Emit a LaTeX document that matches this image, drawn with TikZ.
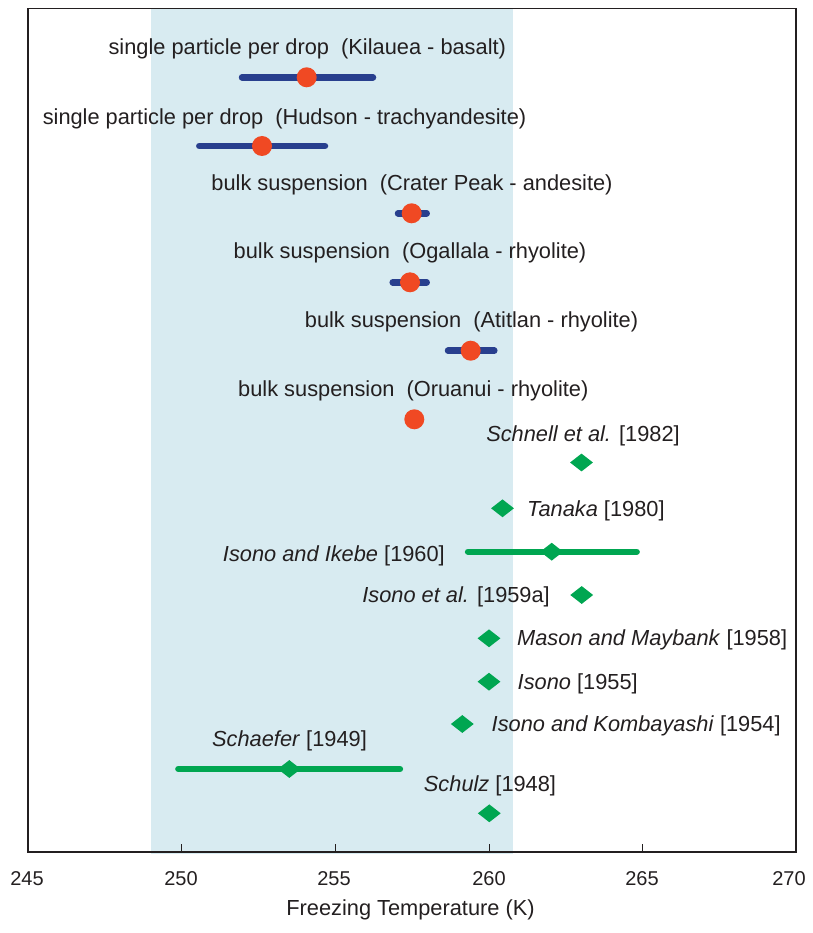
\documentclass[tikz,border=0pt]{standalone}
\usepackage{fontspec}
\setmainfont{Liberation Sans}
\usetikzlibrary{shapes.geometric}
\definecolor{txt}{HTML}{231F20}
\definecolor{bandblue}{HTML}{D8EBF1}
\definecolor{barblue}{HTML}{283F8E}
\definecolor{dotred}{HTML}{F04923}
\definecolor{grn}{HTML}{00A651}
\tikzset{
  lbl/.style={inner sep=0pt, text=txt, font=\fontsize{21.8}{24}\selectfont},
  ticklbl/.style={inner sep=0pt, text=txt, font=\fontsize{20}{24}\selectfont, anchor=base},
  bluebar/.style={draw=barblue, line width=6.5pt, line cap=round},
  greenbar/.style={draw=grn, line width=6.3pt, line cap=round},
  reddot/.style={circle, fill=dotred, draw=none, minimum size=20pt, inner sep=0pt},
  grndia/.style={diamond, fill=grn, draw=none, minimum width=23pt, minimum height=18pt, inner sep=0pt},
  frameline/.style={draw=txt, line width=1.5pt},
}
\begin{document}
\begin{tikzpicture}[x=1pt, y=-1pt]
\useasboundingbox (0,0) rectangle (812,933);
% shaded band
\fill[fill=bandblue] (151,9) rectangle (512.7,854);
% frame and ticks
\draw[frameline] (28,8.7) rectangle (796,852);
\foreach \tx in {181.7,335.3,489,642.7} {
  \draw[frameline, line width=1pt] (\tx,852) -- (\tx,844);
}
% tick labels
\node[ticklbl] (t245) at (27,885) {245};
\node[ticklbl] (t250) at (181,885) {250};
\node[ticklbl] (t255) at (334,885) {255};
\node[ticklbl] (t260) at (489,885) {260};
\node[ticklbl] (t265) at (642,885) {265};
\node[ticklbl] (t270) at (789,885) {270};
\node[lbl, anchor=base] (xtitle) at (410.5,915) {Freezing Temperature (K)};

% ---- blue bars / red dots ----
\coordinate (kA) at (242,77.3); \coordinate (kB) at (373,77.3);
\draw[bluebar] (kA) -- (kB);
\node[reddot] (kil) at (306.7,77.3) {};
\node[lbl, anchor=base] (kilL) at (307.3,55) {single particle per drop\ \ (Kilauea - basalt)};

\coordinate (hA) at (199.3,146); \coordinate (hB) at (325,146);
\draw[bluebar] (hA) -- (hB);
\node[reddot] (hud) at (262,146) {};
\node[lbl, anchor=base] (hudL) at (284.5,125) {single particle per drop\ \ (Hudson - trachyandesite)};

\coordinate (cA) at (398,213.3); \coordinate (cB) at (426.7,213.3);
\draw[bluebar] (cA) -- (cB);
\node[reddot] (cra) at (411.7,213.3) {};
\node[lbl, anchor=base] (craL) at (412,191) {bulk suspension\ \ (Crater Peak - andesite)};

\coordinate (oA) at (392.7,282.3); \coordinate (oB) at (426.7,282.3);
\draw[bluebar] (oA) -- (oB);
\node[reddot] (oga) at (410,282.3) {};
\node[lbl, anchor=base] (ogaL) at (410,258.3) {bulk suspension\ \ (Ogallala - rhyolite)};

\coordinate (aA) at (448,350.7); \coordinate (aB) at (494.3,350.7);
\draw[bluebar] (aA) -- (aB);
\node[reddot] (ati) at (470.7,350.7) {};
\node[lbl, anchor=base] (atiL) at (471.5,327.7) {bulk suspension\ \ (Atitlan - rhyolite)};

\node[reddot] (oru) at (414.3,419.3) {};
\node[lbl, anchor=base] (oruL) at (413.3,396.7) {bulk suspension\ \ (Oruanui - rhyolite)};

% ---- green diamonds ----
\node[grndia] (sch) at (581.5,462.5) {};
\node[lbl, anchor=base] (schL) at (583,441.7) {\textit{Schnell et al.} [1982]};

\node[grndia] (tan) at (502.5,508.3) {};
\node[lbl, anchor=base west] (tanL) at (527,516.5) {\textit{Tanaka} [1980]};

\coordinate (iiA) at (468,551.7); \coordinate (iiB) at (636.7,551.7);
\draw[greenbar] (iiA) -- (iiB);
\node[grndia] (iik) at (551.7,551.7) {};
\node[lbl, anchor=base east] (iikL) at (445,561.5) {\textit{Isono and Ikebe} [1960]};

\node[grndia] (iea) at (581.7,595) {};
\node[lbl, anchor=base east] (ieaL) at (550,602) {\textit{Isono et al.} [1959a]};

\node[grndia] (mas) at (489,638.3) {};
\node[lbl, anchor=base west] (masL) at (517,645.5) {\textit{Mason and Maybank} [1958]};

\node[grndia] (iso) at (489,681.7) {};
\node[lbl, anchor=base west] (isoL) at (517.5,689) {\textit{Isono} [1955]};

\node[grndia] (kom) at (462.3,724) {};
\node[lbl, anchor=base west] (komL) at (491.5,731.5) {\textit{Isono and Kombayashi} [1954]};

\coordinate (sfA) at (178.3,769); \coordinate (sfB) at (400,769);
\draw[greenbar] (sfA) -- (sfB);
\node[grndia] (sfr) at (289.3,769) {};
\node[lbl, anchor=base] (sfrL) at (289.5,746.7) {\textit{Schaefer} [1949]};

\node[grndia] (slz) at (489.3,813.3) {};
\node[lbl, anchor=base] (slzL) at (490,791) {\textit{Schulz} [1948]};
\end{tikzpicture}
\end{document}
